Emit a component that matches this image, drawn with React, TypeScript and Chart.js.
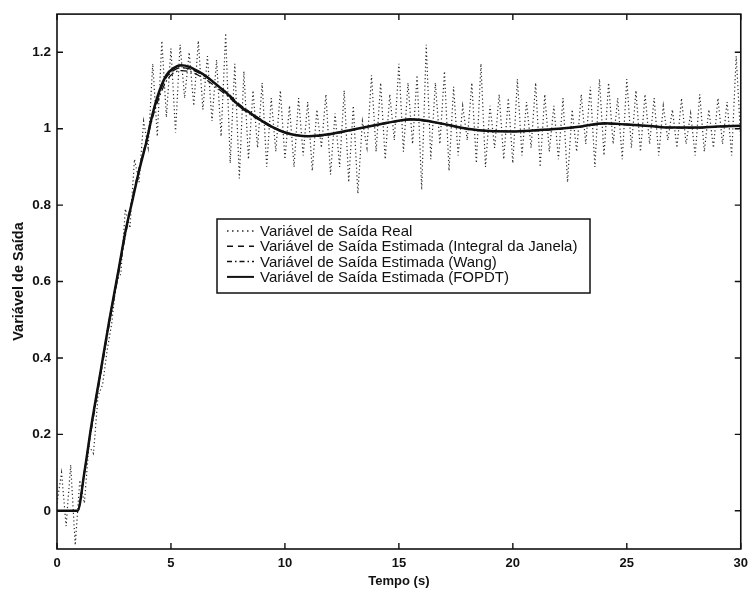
import React, { useEffect, useRef } from "react";
import { Chart, registerables } from "chart.js";

Chart.register(...registerables);

// ---- data ----
const realStep = 0.2; // sampling period of the measured signal (s)
const realValues = [
  0.02, 0.10, -0.04, 0.12, -0.09, 0.08, 0.02, 0.17, 0.15, 0.30,
  0.33, 0.42, 0.49, 0.60, 0.62, 0.79, 0.74, 0.92, 0.86, 1.02,
  0.95, 1.17, 0.98, 1.23, 1.03, 1.21, 0.99, 1.22, 1.08, 1.20,
  1.06, 1.23, 1.05, 1.19, 1.02, 1.18, 0.98, 1.25, 0.91, 1.17,
  0.87, 1.15, 0.92, 1.10, 0.95, 1.12, 0.90, 1.08, 0.94, 1.10,
  0.92, 1.06, 0.90, 1.08, 0.93, 1.07, 0.89, 1.05, 0.95, 1.09,
  0.88, 1.04, 0.90, 1.10, 0.86, 1.06, 0.83, 1.02, 0.95, 1.14,
  0.94, 1.12, 0.92, 1.09, 0.97, 1.17, 0.94, 1.12, 0.96, 1.14,
  0.84, 1.22, 0.92, 1.12, 0.96, 1.15, 0.89, 1.11, 0.93, 1.06,
  0.97, 1.12, 0.91, 1.17, 0.90, 1.06, 0.95, 1.09, 0.92, 1.08,
  0.91, 1.13, 0.93, 1.07, 0.95, 1.12, 0.90, 1.09, 0.94, 1.06,
  0.92, 1.08, 0.86, 1.05, 0.94, 1.09, 0.96, 1.11, 0.90, 1.13,
  0.93, 1.12, 0.96, 1.08, 0.92, 1.13, 0.95, 1.10, 0.94, 1.09,
  0.96, 1.08, 0.93, 1.06, 0.97, 1.05, 0.95, 1.08, 0.96, 1.04,
  0.93, 1.09, 0.94, 1.05, 0.95, 1.08, 0.96, 1.07, 0.93, 1.19,
  0.97,
];

const estTime = [
  0, 0.9, 1.2, 1.5, 1.9, 2.3, 2.7, 3.0, 3.3, 3.6,
  3.9, 4.2, 4.5, 4.8, 5.1, 5.45, 5.8, 6.2, 6.6, 7.0,
  7.5, 8.0, 8.5, 9.0, 9.5, 10.0, 10.5, 11.0, 11.5, 12.0,
  13.0, 14.0, 15.0, 15.5, 16.0, 17.0, 18.0, 19.0, 20.0, 21.0,
  22.0, 23.0, 24.0, 25.0, 26.0, 27.0, 28.0, 29.0, 30.0,
];
const integralValues = [
  0, 0, 0.1, 0.22, 0.36, 0.5, 0.63, 0.73, 0.815, 0.895,
  0.965, 1.04, 1.095, 1.135, 1.152, 1.16, 1.157, 1.147, 1.133, 1.115,
  1.092, 1.064, 1.042, 1.022, 1.004, 0.991, 0.984, 0.98, 0.981, 0.985,
  0.997, 1.009, 1.02, 1.024, 1.022, 1.012, 1.0, 0.994, 0.993, 0.995,
  0.999, 1.005, 1.013, 1.011, 1.007, 1.003, 1.002, 1.005, 1.007,
];
const wangValues = [
  0, 0, 0.1, 0.21, 0.35, 0.49, 0.62, 0.72, 0.81, 0.89,
  0.96, 1.03, 1.085, 1.125, 1.145, 1.152, 1.15, 1.14, 1.126, 1.108,
  1.085, 1.058, 1.037, 1.018, 1.001, 0.99, 0.983, 0.98, 0.982, 0.986,
  0.998, 1.01, 1.02, 1.023, 1.021, 1.011, 0.999, 0.994, 0.993, 0.996,
  1.0, 1.006, 1.013, 1.011, 1.007, 1.003, 1.003, 1.006, 1.008,
];
const fopdtValues = [
  0, 0, 0.1, 0.22, 0.36, 0.5, 0.63, 0.73, 0.81, 0.89,
  0.96, 1.04, 1.10, 1.14, 1.158, 1.166, 1.162, 1.15, 1.135, 1.115,
  1.09, 1.06, 1.04, 1.02, 1.003, 0.99, 0.983, 0.98, 0.982, 0.986,
  0.998, 1.01, 1.021, 1.025, 1.023, 1.012, 1.0, 0.994, 0.993, 0.996,
  1.0, 1.006, 1.014, 1.011, 1.007, 1.003, 1.003, 1.006, 1.008,
];

const xTicks = [0, 5, 10, 15, 20, 25, 30];
const yTicks = [0, 0.2, 0.4, 0.6, 0.8, 1, 1.2];

const legendLabels = [
  "Variável de Saída Real",
  "Variável de Saída Estimada (Integral da Janela)",
  "Variável de Saída Estimada (Wang)",
  "Variável de Saída Estimada (FOPDT)",
];

const xTitle = "Tempo (s)";
const yTitle = "Variável de Saída";

// ---- styles ----
const INK = "#111";
const FONT = "'Liberation Sans', Arial, sans-serif";
const dashes = [[1.2, 2.6], [7, 4], [7, 3, 1.5, 3], []];
const widths = [1.2, 1.5, 1.3, 2.5];
const colors = ["#2a2a2a", INK, INK, INK];

const framePlugin = {
  id: "frame",
  afterDatasetsDraw(chart: any) {
    const { ctx, chartArea } = chart;
    const { left, right, top, bottom } = chartArea;
    const xs = chart.scales.x;
    const ys = chart.scales.y;
    ctx.save();
    ctx.strokeStyle = INK;
    ctx.lineWidth = 1.6;
    ctx.setLineDash([]);
    ctx.strokeRect(left, top, right - left, bottom - top);
    ctx.lineWidth = 1.4;
    const tl = 6;
    ctx.beginPath();
    xTicks.forEach((v) => {
      const px = xs.getPixelForValue(v);
      ctx.moveTo(px, bottom);
      ctx.lineTo(px, bottom - tl);
      ctx.moveTo(px, top);
      ctx.lineTo(px, top + tl);
    });
    yTicks.forEach((v) => {
      const py = ys.getPixelForValue(v);
      ctx.moveTo(left, py);
      ctx.lineTo(left + tl, py);
      ctx.moveTo(right, py);
      ctx.lineTo(right - tl, py);
    });
    ctx.stroke();

    // legend box
    const bx = 217, by = 219, bw = 373, bh = 74;
    ctx.fillStyle = "#fff";
    ctx.fillRect(bx, by, bw, bh);
    ctx.lineWidth = 1.5;
    ctx.strokeRect(bx, by, bw, bh);
    ctx.font = `15px ${FONT}`;
    ctx.textBaseline = "middle";
    ctx.textAlign = "left";
    legendLabels.forEach((label, i) => {
      const cy = by + 12 + i * 15.3;
      ctx.beginPath();
      ctx.strokeStyle = colors[i];
      ctx.lineWidth = i === 3 ? 2 : 1.5;
      ctx.setLineDash(i === 0 ? [1.5, 3.5] : i === 2 ? [5, 3, 1.5, 3] : i === 1 ? [6, 5] : []);
      ctx.moveTo(227, cy);
      ctx.lineTo(254, cy);
      ctx.stroke();
      ctx.setLineDash([]);
      ctx.fillStyle = INK;
      ctx.fillText(label, 260, cy + 1);
    });
    ctx.restore();
  },
};

export default function App() {
  const ref = useRef<HTMLCanvasElement | null>(null);

  useEffect(() => {
    document.body.style.margin = "0";
    const canvas = ref.current;
    if (!canvas) return;

    const realData = realValues.map((v, i) => ({ x: Math.round(i * realStep * 10) / 10, y: v }));
    const mk = (vals: number[]) => vals.map((v, i) => ({ x: estTime[i], y: v }));

    const chart = new Chart(canvas, {
      type: "line",
      data: {
        datasets: [
          {
            label: legendLabels[3],
            data: mk(fopdtValues),
            borderColor: colors[3],
            borderWidth: widths[3],
            borderDash: dashes[3],
            pointRadius: 0,
            cubicInterpolationMode: "monotone",
          },
          {
            label: legendLabels[2],
            data: mk(wangValues),
            borderColor: colors[2],
            borderWidth: widths[2],
            borderDash: dashes[2],
            pointRadius: 0,
            cubicInterpolationMode: "monotone",
          },
          {
            label: legendLabels[1],
            data: mk(integralValues),
            borderColor: colors[1],
            borderWidth: widths[1],
            borderDash: dashes[1],
            pointRadius: 0,
            cubicInterpolationMode: "monotone",
          },
          {
            label: legendLabels[0],
            data: realData,
            borderColor: colors[0],
            borderWidth: widths[0],
            borderDash: dashes[0],
            pointRadius: 0,
            tension: 0,
          },
        ],
      },
      options: {
        responsive: false,
        animation: false,
        events: [],
        layout: { padding: { top: 8, right: 12, left: 0, bottom: 0 } },
        plugins: {
          legend: { display: false },
          tooltip: { enabled: false },
          title: { display: false },
        },
        scales: {
          x: {
            type: "linear",
            min: 0,
            max: 30,
            afterFit(scale: any) {
              scale.height = 47;
            },
            afterBuildTicks(scale: any) {
              scale.ticks = xTicks.map((v) => ({ value: v }));
            },
            grid: { display: false, drawTicks: false },
            border: { display: false },
            ticks: {
              color: INK,
              padding: 7,
              maxRotation: 0,
              callback: (v: any) => String(v),
              font: { family: FONT, size: 13, weight: "bold" },
            },
            title: {
              display: true,
              text: xTitle,
              color: INK,
              padding: { top: 0, bottom: 7 },
              font: { family: FONT, size: 13, weight: "bold" },
            },
          },
          y: {
            type: "linear",
            min: -0.1,
            max: 1.3,
            afterFit(scale: any) {
              scale.width = 57;
            },
            afterBuildTicks(scale: any) {
              scale.ticks = yTicks.map((v) => ({ value: v }));
            },
            grid: { display: false, drawTicks: false },
            border: { display: false },
            ticks: {
              color: INK,
              padding: 6,
              callback: (v: any) => String(Number(Number(v).toFixed(1))),
              font: { family: FONT, size: 13.5, weight: "bold" },
            },
            title: {
              display: true,
              text: yTitle,
              color: INK,
              padding: { top: 10, bottom: 0 },
              font: { family: FONT, size: 14.5, weight: "bold" },
            },
          },
        },
      },
      plugins: [framePlugin],
    });

    return () => chart.destroy();
  }, []);

  return (
    <div style={{ width: 755, height: 596, background: "#fff" }}>
      <canvas ref={ref} width={755} height={596} />
    </div>
  );
}
